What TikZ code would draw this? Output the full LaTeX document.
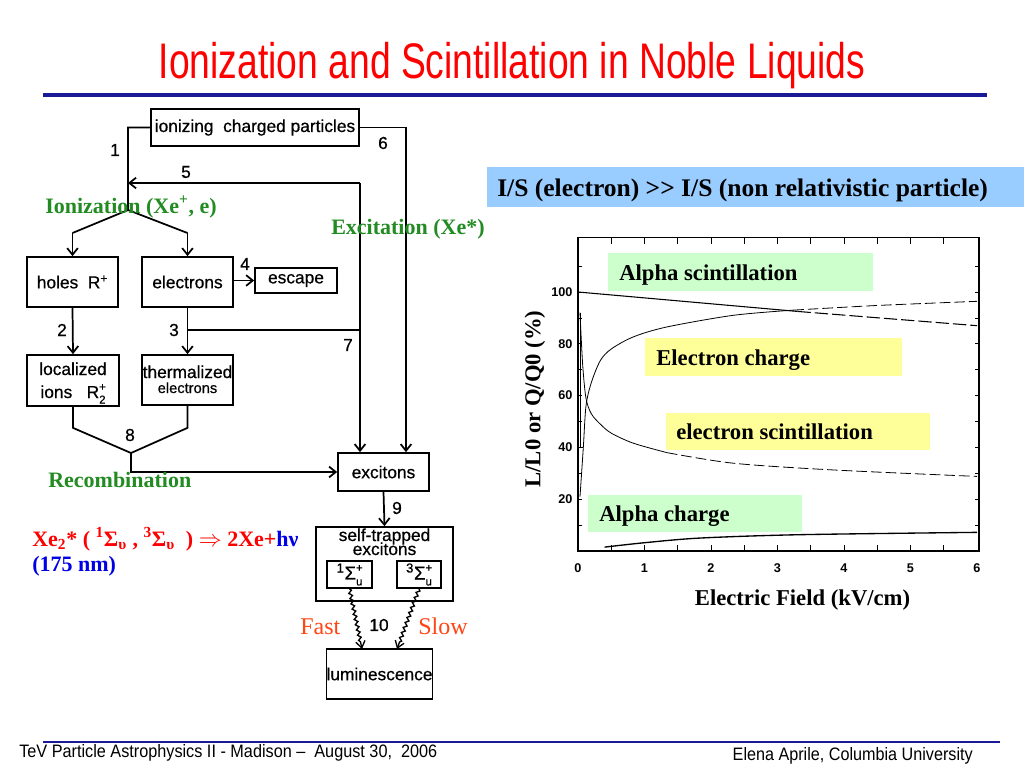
\documentclass[tikz,border=0pt]{standalone}
\usepackage{fontspec}
\usepackage{graphicx}
\setmainfont{Liberation Serif}
\newfontfamily\arial{Liberation Sans}
\newfontfamily\flowfont{Liberation Sans}[FakeBold=0.6]
\usetikzlibrary{arrows.meta,decorations.pathmorphing}
\definecolor{navy}{RGB}{26,26,150}
\definecolor{grn}{RGB}{34,139,34}
\definecolor{isblue}{RGB}{153,204,255}
\definecolor{lgreen}{RGB}{204,255,204}
\definecolor{lyellow}{RGB}{255,255,153}
\definecolor{orng}{RGB}{255,69,20}
\definecolor{fblue}{RGB}{0,0,230}
\newsavebox\fitbox
\newlength\fitlen
\newcommand\fitw[2]{\sbox\fitbox{#2}\setlength\fitlen{\wd\fitbox}\pgfmathsetmacro\fitfac{#1/\fitlen}\scalebox{\fitfac}[1]{\usebox\fitbox}}
\newcommand\supsub[2]{\makebox[0pt][l]{\raisebox{0.8ex}{\fontsize{8.5}{8.5}\selectfont #1}}\raisebox{-0.6ex}{\fontsize{8.5}{8.5}\selectfont #2}}
\begin{document}
\begin{tikzpicture}[x=0.75pt,y=-0.75pt,
  fbox/.style 2 args={draw, line width=1.3pt, minimum width=#1*0.75pt, minimum height=#2*0.75pt, inner sep=0pt, font=\flowfont\fontsize{13}{13}\selectfont, align=center},
  lbl/.style={font=\flowfont\fontsize{13}{13}\selectfont, inner sep=0pt},
  fline/.style={line width=1.3pt},
  arr/.style={line width=1.3pt, -{Straight Barb[length=5pt,width=8pt]}},
  wavy/.style={line width=1pt, decorate, decoration={snake, amplitude=1.2pt, segment length=4pt, post length=5pt}, -{Straight Barb[length=5pt,width=7pt]}},
  gtxt/.style={text=grn, font=\bfseries\fontsize{16.5}{18}\selectfont, inner sep=0pt},
  ptxt/.style={font=\bfseries\fontsize{17}{18}\selectfont, inner sep=0pt},
  pbox/.style 2 args={minimum width=#1*0.75pt, minimum height=#2*0.75pt, inner sep=0pt, anchor=north west},
  tick/.style={font=\arial\bfseries\fontsize{9.5}{10}\selectfont, inner sep=0pt},
  curve/.style={line width=0.6pt}
]
\useasboundingbox (0,0) rectangle (1024,768);
\fill[white] (0,0) rectangle (1024,768);

% title and rules
\node[anchor=base, text=red, font=\arial\fontsize{37.5}{40}\selectfont, inner sep=0pt] (title) at (512,78) {\fitw{530pt}{Ionization and Scintillation in Noble Liquids}};
\draw[navy, line width=3pt] (43,94.5) -- (987,94.5);
\draw[navy, line width=1.1pt] (43,742) -- (1000,742);
\node[anchor=base west, font=\arial\fontsize{13.5}{15}\selectfont, inner sep=0pt] (foot1) at (19,757) {\fitw{313.5pt}{TeV Particle Astrophysics II - Madison –\ \ August 30,\ \ 2006}};
\node[anchor=base east, font=\arial\fontsize{13.5}{15}\selectfont, inner sep=0pt] (foot2) at (973,760) {\fitw{180pt}{Elena Aprile, Columbia University}};

% flowchart boxes
\node[fbox={208}{37}] (ion) at (255,127.5) {ionizing\ \ charged particles};
\node[fbox={91}{50}] (holes) at (72.5,282) {holes\ \ R\textsuperscript{+}};
\node[fbox={91}{50}] (elec) at (187.5,282) {electrons};
\node[fbox={82}{25}] (esc) at (296,280.5) {escape};
\node[fbox={92}{51}] (loc) at (73,380.5) {};
\node[lbl, anchor=base] (loc1) at (73,375) {localized};
\node[lbl, anchor=base] (loc2) at (73,398) {ions\ \ \ R\supsub{+}{2}};
\node[fbox={91}{50}] (therm) at (187.5,380) {};
\node[lbl, anchor=base] (th1) at (187.5,378) {thermalized};
\node[lbl, anchor=base, font=\flowfont\fontsize{11}{11}\selectfont] (th2) at (187.5,393) {electrons};
\node[fbox={91}{38}] (exc) at (383.5,472) {excitons};
\node[fbox={137}{74}] (stx) at (384.5,564) {};
\node[lbl, anchor=base] (stxt1) at (384.5,541) {self-trapped};
\node[lbl, anchor=base] (stxt2) at (384.5,555) {excitons};
\node[fbox={45}{27}, font=\flowfont\fontsize{14}{14}\selectfont] (s1) at (349.5,574.5) {\textsuperscript{1}Σ\supsub{+}{u}};
\node[fbox={44}{27}, font=\flowfont\fontsize{14}{14}\selectfont] (s3) at (419,574.5) {\textsuperscript{3}Σ\supsub{+}{u}};
\node[fbox={103}{50}] (lum) at (379.5,674) {luminescence};

% junctions
\coordinate (j1) at (128,210);
\coordinate (j5) at (128,183);
\coordinate (kL) at (72.5,233);
\coordinate (kR) at (187.5,233);
\coordinate (k7) at (360,183);
\coordinate (j3) at (187.5,330);
\coordinate (k6) at (406,127.5);
\coordinate (j8) at (131,453);
\coordinate (lumA) at (362,649);
\coordinate (lumB) at (397,649);

% connectors
\draw[fline] (ion.west) -| (j1) -- (kL);
\draw[arr] (kL) -- (holes.north);
\draw[fline] (j1) -- (kR);
\draw[arr] (kR) -- (elec.north);
\draw[arr] (k7) -- (j5);
\draw[arr] (k7) -- (k7 |- exc.north);
\draw[fline] (j3) -- (j3 -| k7);
\draw[arr] (ion.east) -- (k6) -- (k6 |- exc.north);
\draw[arr] (holes.south) -- (loc.north);
\draw[arr] (elec.south) -- (therm.north);
\draw[arr] (esc.west -| elec.east) -- (esc.west);
\draw[fline] (loc.south) -- ++(0,21) -- (j8);
\draw[fline] (therm.south) -- ++(0,22) -- (j8);
\draw[arr] (j8) |- (exc.west);
\draw[arr] (exc.south) -- (stx.north);
\draw[wavy] (s1.south) -- (lumA);
\draw[wavy] (s3.south) -- (lumB);

% numbers
\node[lbl] (n1) at (115,150) {1};
\node[lbl] (n5) at (186,172) {5};
\node[lbl] (n6) at (383,143) {6};
\node[lbl] (n4) at (245,264) {4};
\node[lbl] (n2) at (62,330) {2};
\node[lbl] (n3) at (174,330) {3};
\node[lbl] (n7) at (348,345) {7};
\node[lbl] (n8) at (130,435) {8};
\node[lbl] (n9) at (397,508) {9};
\node[lbl] (n10) at (379,625) {10};

% coloured annotations
\node[gtxt, anchor=base west] (ionlab) at (45,213) {Ionization (Xe\textsuperscript{+}, e)};
\node[gtxt, anchor=base west] (exclab) at (331,234) {Excitation (Xe*)};
\node[gtxt, anchor=base west] (reclab) at (48,487) {Recombination};
\node[anchor=base west, text=red, font=\bfseries\fontsize{16.5}{18}\selectfont, inner sep=0pt] (form) at (32,546) {Xe\textsubscript{2}* ( \textsuperscript{1}Σ\textsubscript{υ} , \textsuperscript{3}Σ\textsubscript{υ}\ \ ) $\Rightarrow$ 2Xe+\textcolor{fblue}{hν}};
\node[anchor=base west, text=fblue, font=\bfseries\fontsize{16.5}{18}\selectfont, inner sep=0pt] (nm) at (32,571) {(175 nm)};
\node[anchor=base west, text=orng, font=\fontsize{18}{20}\selectfont, inner sep=0pt] (fast) at (300,634) {Fast};
\node[anchor=base west, text=orng, font=\fontsize{18}{20}\selectfont, inner sep=0pt] (slow) at (418,634) {Slow};

% I/S box
\node[fill=isblue, pbox={537}{40}] (isbox) at (487,167) {};
\node[anchor=base west, font=\bfseries\fontsize{19}{20}\selectfont, inner sep=0pt] (istxt) at (497,196) {\fitw{368pt}{I/S (electron) {>}{>} I/S (non relativistic particle)}};

% plot label boxes
\node[fill=lgreen, pbox={265}{38}] (bAS) at (608,253) {};
\node[ptxt, anchor=base west] (tAS) at (619,280) {Alpha scintillation};
\node[fill=lyellow, pbox={257}{38}] (bEC) at (645,338) {};
\node[ptxt, anchor=base west] (tEC) at (656,365) {Electron charge};
\node[fill=lyellow, pbox={264}{37}] (bES) at (666,413) {};
\node[ptxt, anchor=base west] (tES) at (676,439) {electron scintillation};
\node[fill=lgreen, pbox={214}{37}] (bAC) at (588,495) {};
\node[ptxt, anchor=base west] (tAC) at (599,521) {Alpha charge};

% axis labels
\node[ptxt, rotate=90] (ylab) at (535,399) {L/L0 or Q/Q0 (\%)};
\node[ptxt, anchor=base] (xlab) at (802.5,605) {Electric Field (kV/cm)};

% plot
\begin{scope}[xshift=433.5pt, yshift=-413.25pt, x=49.875pt, y=1.9425pt]
  \draw[line width=0.8pt] (0,0) rectangle (6.03,121);
  \foreach \i in {0.5,1,...,5.5} {
    \draw[line width=0.5pt] (\i,0) -- (\i,2.5);
    \draw[line width=0.5pt] (\i,121) -- (\i,118.5);
  }
  \foreach \v in {10,20,...,110} {
    \draw[line width=0.5pt] (0,\v) -- (0.06,\v);
    \draw[line width=0.5pt] (6.03,\v) -- (5.97,\v);
  }
  \foreach \i in {0,...,6} { \node[tick, anchor=base] (xt\i) at (\i,-8.3) {\i}; }
  \foreach \v in {20,40,...,100} { \node[tick, anchor=east] (yt\v) at (-0.08,\v) {\v}; }
  % alpha scintillation
  \draw[line width=0.8pt] (0,100) -- (3.3,92.5);
  \draw[line width=0.8pt, dash pattern=on 10pt off 3pt] (3.3,92.5) -- (6,87);
  % electron charge
  \draw[curve] plot[smooth] coordinates {(0.03,21) (0.08,40) (0.12,56) (0.2,65) (0.335,73.5) (0.5,78) (0.835,82.7) (1.335,86.5) (2.335,91) (3.235,93)};
  \draw[curve, dash pattern=on 8pt off 3pt] plot[smooth] coordinates {(3.235,93) (4.5,94.8) (6,96.4)};
  % electron scintillation
  \draw[curve] plot[smooth] coordinates {(0.03,92) (0.07,72) (0.12,59) (0.2,53) (0.335,49) (0.5,45.5) (0.835,41.6) (1.335,38)};
  \draw[curve, dash pattern=on 8pt off 3pt] plot[smooth] coordinates {(1.335,38) (2.335,33.9) (3.835,31.3) (6,28.8)};
  \draw[line width=0.6pt] (0.03,92) -- (0.03,40) -- (0.08,40);
  % alpha charge
  \draw[line width=1pt] plot[smooth] coordinates {(0.4,1.5) (1,3.2) (1.835,5) (3.335,6.3) (6,7.2)};
\end{scope}
\end{tikzpicture}
\end{document}
